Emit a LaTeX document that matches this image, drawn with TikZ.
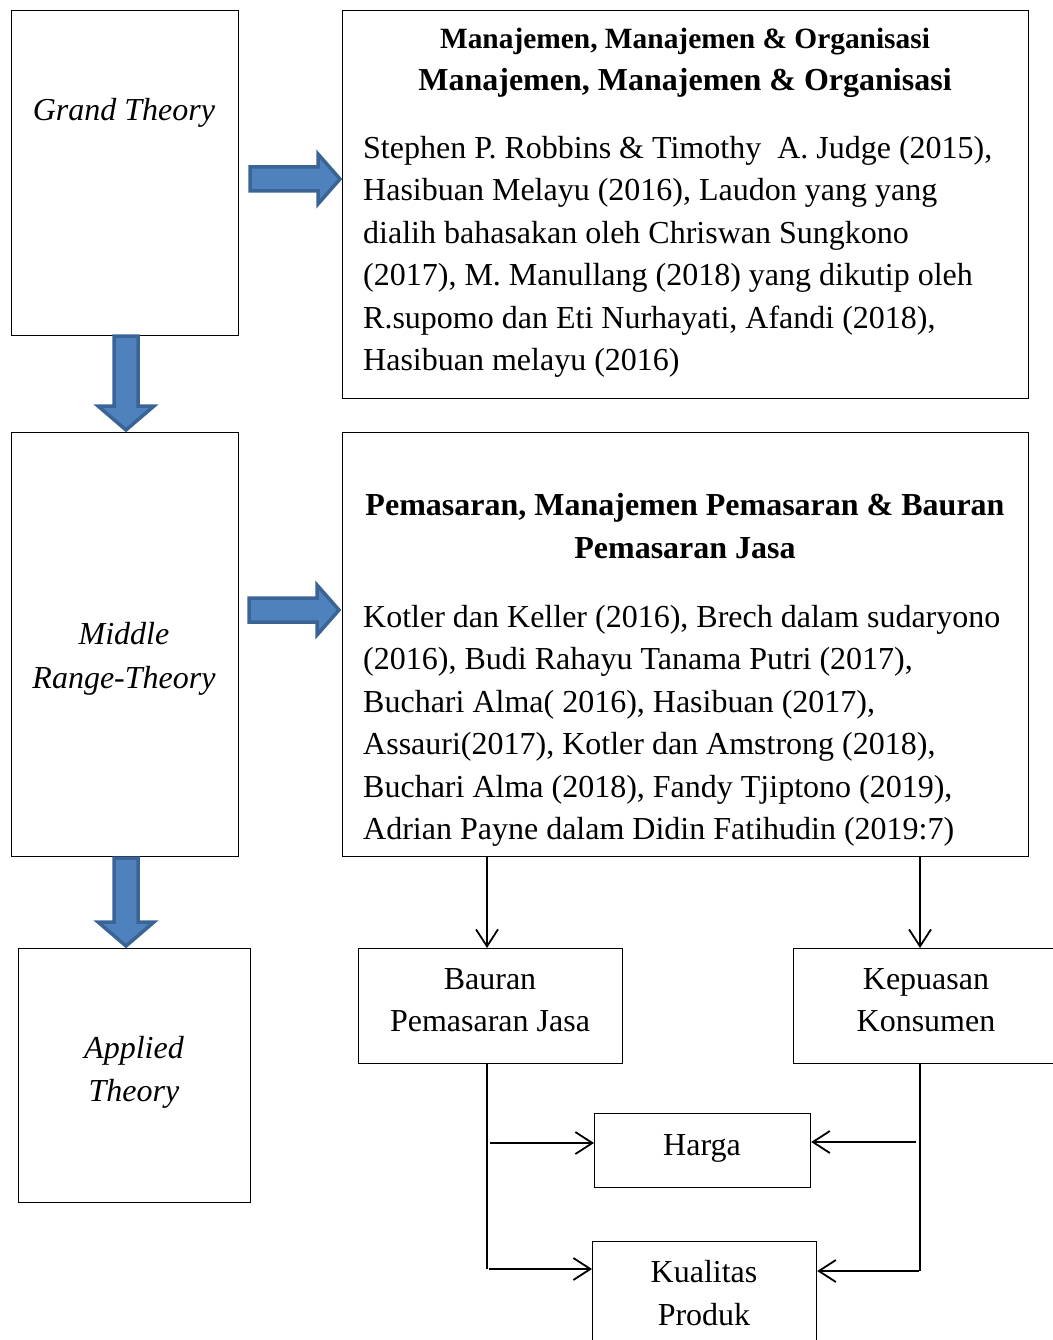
\documentclass[tikz,border=0pt]{standalone}
\usepackage{fontspec}
\setmainfont{Liberation Serif}
\usetikzlibrary{arrows.meta,calc}
\begin{document}
\begin{tikzpicture}[x=1pt,y=-1pt,
  box/.style={draw,line width=1.2pt,inner sep=0pt,anchor=north west},
  txt/.style={inner sep=0pt,font=\fontsize{32}{42.4}\selectfont},
  conn/.style={line width=1.8pt,-{Straight Barb[length=17pt,width=22pt,line width=1.8pt]}},
  plain/.style={line width=1.8pt},
]
\definecolor{barfill}{HTML}{4F81BD}
\definecolor{barline}{HTML}{3B6496}
\tikzset{blockarrow/.style={draw=barline,line width=3.5pt,fill=barfill,line join=miter}}
\useasboundingbox (0,0) rectangle (1052,1340);
% boxes
\node[box,minimum width=227pt,minimum height=325pt] (grand) at (11,10) {};
\node[box,minimum width=686pt,minimum height=388pt] (mtop) at (342,10) {};
\node[box,minimum width=227pt,minimum height=424pt] (middle) at (11,432) {};
\node[box,minimum width=686pt,minimum height=424pt] (mmid) at (342,432) {};
\node[box,minimum width=232pt,minimum height=254pt] (applied) at (18,948) {};
\node[box,minimum width=264pt,minimum height=115pt] (bauran) at (358,948) {};
\node[box,minimum width=268pt,minimum height=115pt] (kepuasan) at (793,948) {};
\node[box,minimum width=216pt,minimum height=74pt] (harga) at (594,1113) {};
\node[box,minimum width=224pt,minimum height=130pt] (kualitas) at (592,1241) {};
% texts
\node[txt,font=\fontsize{32}{43}\itshape] (tgrand) at (124,113) {Grand Theory};
\node[txt,align=center,font=\fontsize{32}{44}\itshape] (tmiddle) at (124,659) {Middle\\Range-Theory};
\node[txt,align=center,font=\fontsize{32}{43}\itshape] (tapplied) at (134,1072) {Applied\\Theory};
\node[txt,font=\fontsize{29.4}{30}\bfseries] (h1a) at (685,42) {Manajemen, Manajemen \& Organisasi};
\node[txt,font=\fontsize{32}{30}\bfseries] (h1b) at (685,83) {Manajemen, Manajemen \& Organisasi};
\node[txt,align=left,anchor=north west] (b1) at (363,136) {Stephen P. Robbins \& Timothy\ \ A. Judge (2015),\\
Hasibuan Melayu (2016), Laudon yang yang\\
dialih bahasakan oleh Chriswan Sungkono\\
(2017), M. Manullang (2018) yang dikutip oleh\\
R.supomo dan Eti Nurhayati, Afandi (2018),\\
Hasibuan melayu (2016)};
\node[txt,align=center,font=\fontsize{32}{42.4}\bfseries] (h2) at (685,526) {Pemasaran, Manajemen Pemasaran \& Bauran\\Pemasaran Jasa};
\node[txt,align=left,anchor=north west] (b2) at (363,605) {Kotler dan Keller (2016), Brech dalam sudaryono\\
(2016), Budi Rahayu Tanama Putri (2017),\\
Buchari Alma( 2016), Hasibuan (2017),\\
Assauri(2017), Kotler dan Amstrong (2018),\\
Buchari Alma (2018), Fandy Tjiptono (2019),\\
Adrian Payne dalam Didin Fatihudin (2019:7)};
\node[txt,align=center] (tbauran) at (490,1000) {Bauran\\Pemasaran Jasa};
\node[txt,align=center] (tkepuasan) at (926,1000) {Kepuasan\\Konsumen};
\node[txt] (tharga) at (702,1148) {Harga};
\node[txt,align=center] (tkualitas) at (704,1293) {Kualitas\\Produk};
% block arrows
\draw[blockarrow] (250,167) -- (318,167) -- (318,154) -- (340,179) -- (318,204) -- (318,191) -- (250,191) -- cycle;
\draw[blockarrow] (249,598) -- (317,598) -- (317,585) -- (339,610) -- (317,635) -- (317,622) -- (249,622) -- cycle;
\draw[blockarrow] (114,336) -- (114,406) -- (98,406) -- (126,430) -- (154,406) -- (138,406) -- (138,336) -- cycle;
\draw[blockarrow] (114,858) -- (114,922) -- (98,922) -- (126,946) -- (154,922) -- (138,922) -- (138,858) -- cycle;
% connectors
\coordinate (bdown) at (487,1063);
\coordinate (kdown) at (920,1063);
\draw[conn] (mmid.south -| bdown) -- (bauran.north -| bdown);
\draw[conn] (mmid.south -| kdown) -- (kepuasan.north -| kdown);
\draw[plain] (bdown) -- ($(bdown)+(0,206)$) coordinate (bend);
\draw[plain] (kdown) -- ($(kdown)+(0,208)$) coordinate (kend);
\draw[conn] (490,1143) coordinate (hl) -- (hl -| harga.west);
\draw[conn] (489,1269) coordinate (ql) -- (ql -| kualitas.west);
\draw[conn] (916,1142) coordinate (hr) -- (hr -| harga.east);
\draw[conn] (919,1271) coordinate (qr) -- (qr -| kualitas.east);
\end{tikzpicture}
\end{document}
